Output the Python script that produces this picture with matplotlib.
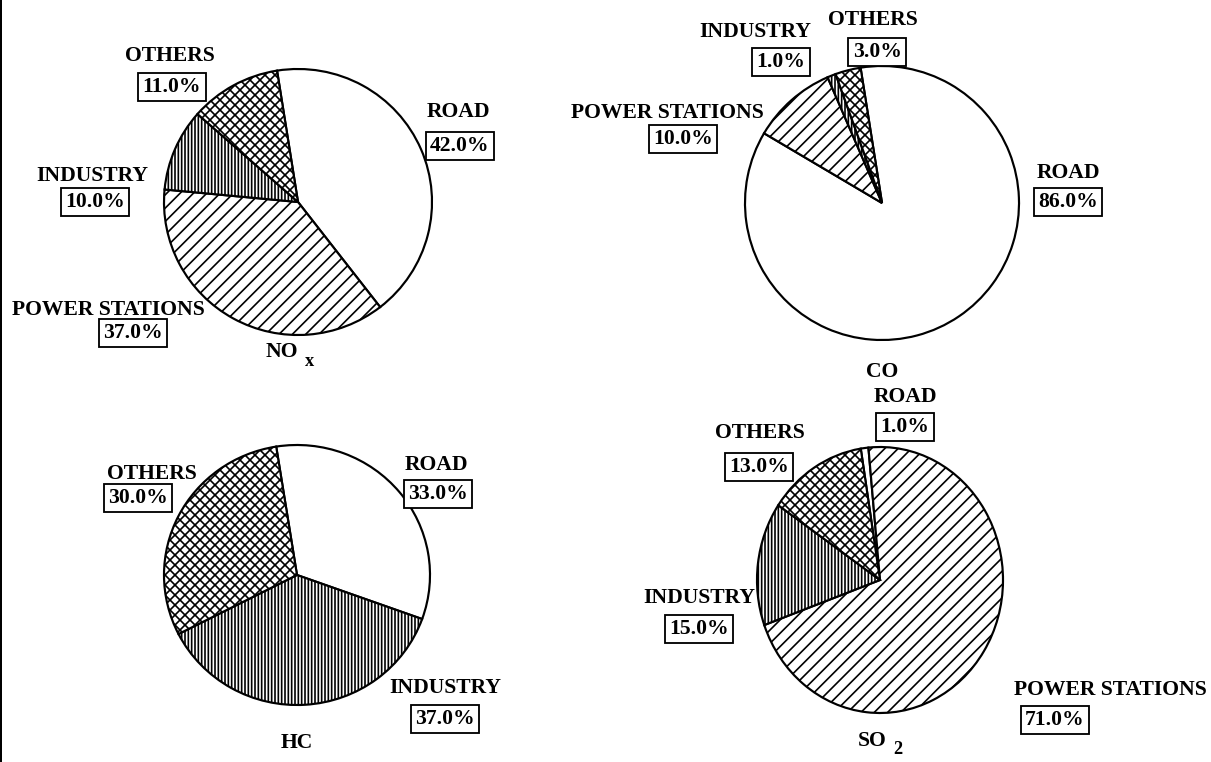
import matplotlib.pyplot as plt
from matplotlib.lines import Line2D

plt.rcParams['font.family'] = ['Liberation Serif', 'DejaVu Serif']
plt.rcParams['font.weight'] = 'bold'
plt.rcParams['hatch.linewidth'] = 1.0

# emission shares by source (%)
sources = ['ROAD', 'POWER STATIONS', 'INDUSTRY', 'OTHERS']
nox = [42.0, 37.0, 10.0, 11.0]
co = [86.0, 10.0, 1.0, 3.0]
hc = [33.0, 0.0, 37.0, 30.0]
so2 = [1.0, 71.0, 15.0, 13.0]

hatches = {'ROAD': '', 'POWER STATIONS': '///', 'INDUSTRY': '||||||', 'OTHERS': 'xxxx'}

W, H, DPI = 1211, 762, 120
fig = plt.figure(figsize=(W / DPI, H / DPI), dpi=DPI)


def px(x, y):
    return x / W, 1 - y / H


def pie(values, cx, cy, rx, ry, labels):
    x0, y0 = px(cx - rx, cy + ry)
    ax = fig.add_axes([x0, y0, 2 * rx / W, 2 * ry / H])
    keep = [i for i, v in enumerate(values) if v > 0]
    wedges, _ = ax.pie([values[i] for i in keep], startangle=99, counterclock=False,
                       colors=['white'] * len(keep),
                       wedgeprops=dict(edgecolor='black', linewidth=1.3))
    for w, i in zip(wedges, keep):
        w.set_hatch(hatches[sources[i]])
        w.set_clip_on(False)
    ax.set_aspect('auto')
    ax.set_xlim(-1, 1)
    ax.set_ylim(-1, 1)
    ax.axis('off')
    # source name with its share in a box underneath
    for i, (tx, ty, bx, by) in labels.items():
        fig.text(*px(tx, ty), sources[i], ha='center', va='center', fontsize=13)
        fig.text(*px(bx, by), f'{values[i]:.1f}%', ha='center', va='center', fontsize=13,
                 bbox=dict(boxstyle='square,pad=0.2', fc='white', ec='black', lw=1.1))


pie(nox, 298, 202, 134, 133, {
    0: (458, 112, 460, 146),
    1: (108, 310, 133, 333),
    2: (92, 176, 95, 202),
    3: (170, 56, 172, 87),
})
pie(co, 882, 203, 137, 137, {
    0: (1068, 173, 1068, 202),
    1: (667, 113, 683, 139),
    2: (755, 32, 781, 62),
    3: (873, 20, 877, 52),
})
pie(hc, 297, 575, 133, 130, {
    0: (436, 465, 438, 494),
    2: (445, 688, 445, 719),
    3: (152, 474, 138, 498),
})
pie(so2, 880, 580, 123, 133, {
    0: (905, 397, 905, 427),
    1: (1110, 690, 1055, 720),
    2: (699, 598, 699, 629),
    3: (760, 433, 759, 467),
})

# pollutant names under each pie
tkw = dict(ha='center', va='center', fontsize=13)
fig.text(*px(282, 352), 'NO', **tkw)
fig.text(*px(310, 361), 'x', ha='center', va='center', fontsize=11)
fig.text(*px(882, 372), 'CO', **tkw)
fig.text(*px(297, 743), 'HC', **tkw)
fig.text(*px(872, 741), 'SO', **tkw)
fig.text(*px(898, 750), '2', ha='center', va='center', fontsize=11)

fig.add_artist(Line2D([1.2 / W, 1.2 / W], [0, 1], transform=fig.transFigure,
                      color='black', lw=1.2))

fig.savefig('out.png', dpi=DPI, facecolor='white')
